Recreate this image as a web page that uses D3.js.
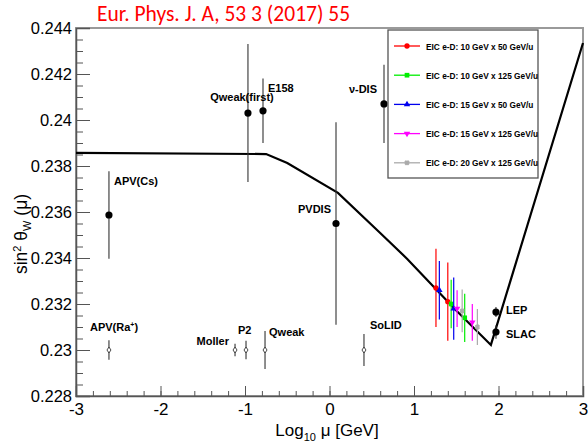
<!DOCTYPE html>
<html><head><meta charset="utf-8">
<script src="https://cdn.jsdelivr.net/npm/d3@7"></script>
<style>body{margin:0;background:#fff;} svg{display:block;} svg text{font-family:"Liberation Sans",Arial,Helvetica,sans-serif;}</style>
</head><body><svg id="c" width="588" height="443"></svg>
<script>
// ---- data ----
const xTickLabels = ["-3","-2","-1","0","1","2","3"];
const yTickValues = [0.228,0.23,0.232,0.234,0.236,0.238,0.24,0.242,0.244];
const yTickLabels = ["0.228","0.23","0.232","0.234","0.236","0.238","0.24","0.242","0.244"];

// theory running curve
const curveLogMu = [-3, -0.75, -0.5, 0.1, 0.6, 0.92, 1.5, 1.91, 3.0];
const curveSin2  = [0.23857, 0.23852, 0.23813, 0.23683, 0.23509, 0.23396, 0.23172, 0.23022, 0.24335];

// existing measurements (filled points)
const measNames = ["APV(Cs)","Qweak(first)","E158","ν-DIS","PVDIS","LEP","SLAC"];
const measLogMu = [-2.61, -0.965, -0.787, 0.645, 0.077, 1.97, 1.97];
const measSin2  = [0.23587, 0.2403, 0.2404, 0.2407, 0.2355, 0.23165, 0.23078];
const measErr   = [0.0019, 0.0030, 0.0014, 0.0017, 0.0044, 0.00022, 0.00029];

// projected measurements (open markers at 0.23)
const projNames = ["APV(Ra+)","Moller","P2","Qweak","SoLID"];
const projLogMu = [-2.61, -1.118, -0.988, -0.763, 0.408];
const projSin2  = [0.23, 0.23, 0.23, 0.23, 0.23];
const projErr   = [0.00042, 0.00027, 0.00040, 0.00083, 0.00070];

// EIC projections
const eicNames  = ["EIC e-D: 10 GeV x 50 GeV/u","EIC e-D: 10 GeV x 125 GeV/u","EIC e-D: 15 GeV x 50 GeV/u","EIC e-D: 15 GeV x 125 GeV/u","EIC e-D: 20 GeV x 125 GeV/u"];
const eicColors = ["#ff0000","#00ee00","#0000ee","#ff00ff","#aaaaaa"];
const eicLogMu  = [[1.26,1.40],[1.44,1.60],[1.30,1.47],[1.51,1.69],[1.57,1.75]];
const eicSin2   = [[0.2327,0.2321],[0.2320,0.2314],[0.2326,0.2318],[0.2318,0.2312],[0.2317,0.2310]];
const eicErr    = [[0.0017,0.0017],[0.00105,0.00105],[0.00127,0.00135],[0.0008,0.0008],[0.00093,0.00078]];

// ---- drawing ----
const FONT = "'Liberation Sans',Arial,Helvetica,sans-serif";
const svg = d3.select("#c");
const L=76,R=583,T=28,B=396;
const x = d3.scaleLinear().domain([-3,3]).range([L,R]);
const y = d3.scaleLinear().domain([0.228,0.244]).range([B,T]);

// title
svg.append("text").attr("x",97).attr("y",21).attr("fill","#ff0000")
  .style("font-family","Carlito,'Open Sans','Liberation Sans',sans-serif").style("font-size","21.5px").text("Eur. Phys. J. A, 53 3 (2017) 55");

// frame
svg.append("rect").attr("x",L).attr("y",T).attr("width",R-L).attr("height",B-T)
  .attr("fill","none").attr("stroke","#9a9a9a").attr("stroke-width",2);

// axes
const yMinor = d3.range(0.228,0.24401,0.0005);
svg.append("g").attr("transform",`translate(${L},0)`)
  .call(d3.axisLeft(y).tickValues(yMinor).tickSize(-7).tickFormat(""))
  .call(g=>g.select(".domain").remove()).selectAll("line").attr("stroke","#555");
const yAx = svg.append("g").attr("transform",`translate(${L},0)`)
  .call(d3.axisLeft(y).tickValues(yTickValues).tickSize(-14).tickPadding(4).tickFormat((d,i)=>yTickLabels[i]));
yAx.attr("font-family",FONT);
yAx.select(".domain").attr("stroke","#555").attr("stroke-width",1.5);
yAx.selectAll("line").attr("stroke","#555");
yAx.selectAll("text").style("font-size","16.5px").attr("fill","#000").style("font-family",FONT);

const xMinor = d3.range(-3,3.001,0.2);
svg.append("g").attr("transform",`translate(0,${B})`)
  .call(d3.axisBottom(x).tickValues(xMinor).tickSize(-5).tickFormat(""))
  .call(g=>g.select(".domain").remove()).selectAll("line").attr("stroke","#555");
const xAx = svg.append("g").attr("transform",`translate(0,${B})`)
  .call(d3.axisBottom(x).tickValues(d3.range(-3,3.5,1)).tickSize(-10).tickPadding(7).tickFormat((d,i)=>xTickLabels[i]));
xAx.attr("font-family",FONT);
xAx.select(".domain").attr("stroke","#555").attr("stroke-width",1.5);
xAx.selectAll("line").attr("stroke","#555");
xAx.selectAll("text").style("font-size","17px").attr("fill","#000").style("font-family",FONT);

// axis titles
const xt = svg.append("text").attr("x",327).attr("y",436).attr("text-anchor","middle").style("font-size","17px");
xt.append("tspan").text("Log");
xt.append("tspan").attr("dy",5).style("font-size","11px").text("10");
xt.append("tspan").attr("dy",-5).text(" μ [GeV]");

const yt = svg.append("text").attr("transform","translate(27,234) rotate(-90)").attr("text-anchor","middle").style("font-size","17.5px");
yt.append("tspan").text("sin");
yt.append("tspan").attr("dy",-6).style("font-size","11px").text("2");
yt.append("tspan").attr("dy",6).text(" θ");
yt.append("tspan").attr("dy",4).style("font-size","11px").text("W");
yt.append("tspan").attr("dy",-4).text(" (μ)");

// theory curve
const line = d3.line().x(d=>x(d[0])).y(d=>y(d[1]));
svg.append("path").datum(curveLogMu.map((v,i)=>[v,curveSin2[i]]))
  .attr("d",line).attr("fill","none").attr("stroke","#000").attr("stroke-width",2.2);

// measurements
const meas = measNames.map((n,i)=>({n,x:measLogMu[i],y:measSin2[i],e:measErr[i]}));
svg.append("g").selectAll("line").data(meas).join("line")
  .attr("x1",d=>x(d.x)).attr("x2",d=>x(d.x)).attr("y1",d=>y(d.y+d.e)).attr("y2",d=>y(d.y-d.e))
  .attr("stroke","#333").attr("stroke-width",1.1);
svg.append("g").selectAll("circle").data(meas).join("circle")
  .attr("cx",d=>x(d.x)).attr("cy",d=>y(d.y)).attr("r",3.6).attr("fill","#000");

const labelStyle = s=>s.style("font-size","11px").style("font-weight","bold");
const measOff = {"APV(Cs)":[5,-30,"start"],"Qweak(first)":[-6,-12,"middle"],"E158":[5,-19,"start"],
  "ν-DIS":[-7,-11,"end"],"PVDIS":[-5,-11,"end"],"LEP":[10,2,"start"],"SLAC":[10,6,"start"]};
meas.forEach(d=>{const o=measOff[d.n];
  svg.append("text").attr("x",x(d.x)+o[0]).attr("y",y(d.y)+o[1]).attr("text-anchor",o[2]).call(labelStyle).text(d.n);});

// projected
const proj = projNames.map((n,i)=>({n,x:projLogMu[i],y:projSin2[i],e:projErr[i]}));
svg.append("g").selectAll("line").data(proj).join("line")
  .attr("x1",d=>x(d.x)).attr("x2",d=>x(d.x)).attr("y1",d=>y(d.y+d.e)).attr("y2",d=>y(d.y-d.e))
  .attr("stroke","#333").attr("stroke-width",1.1);
svg.append("g").selectAll("path").data(proj).join("path")
  .attr("transform",d=>`translate(${x(d.x)},${y(d.y)})`)
  .attr("d","M0,-3L2,0L0,3L-2,0Z").attr("fill","#fff").attr("stroke","#333").attr("stroke-width",0.9);
const projOff = {"APV(Ra+)":[-19,-19,"start"],"Moller":[-6,-5,"end"],"P2":[-8,-16,"start"],"Qweak":[4,-14,"start"],"SoLID":[6,-21,"start"]};
proj.forEach(d=>{const o=projOff[d.n];
  const t=svg.append("text").attr("x",x(d.x)+o[0]).attr("y",y(d.y)+o[1]).attr("text-anchor",o[2]).call(labelStyle);
  if(d.n==="APV(Ra+)"){t.append("tspan").text("APV(Ra");t.append("tspan").attr("dy",-4).style("font-size","7px").text("+");t.append("tspan").attr("dy",4).text(")");}
  else t.text(d.n);});

// EIC
const symbols=[d3.symbolCircle,d3.symbolSquare,d3.symbolTriangle,d3.symbolTriangle,d3.symbolCross];
const symSize=[22,22,18,18,10];
const symRot=[0,0,0,180,45];
eicNames.forEach((n,s)=>{
  const pts=eicLogMu[s].map((v,i)=>({x:v,y:eicSin2[s][i],e:eicErr[s][i]}));
  const g=svg.append("g");
  g.selectAll("line").data(pts).join("line")
    .attr("x1",d=>x(d.x)).attr("x2",d=>x(d.x)).attr("y1",d=>y(d.y+d.e)).attr("y2",d=>y(d.y-d.e))
    .attr("stroke",eicColors[s]).attr("stroke-width",1.2);
  g.selectAll("path").data(pts).join("path")
    .attr("transform",d=>`translate(${x(d.x)},${y(d.y)}) rotate(${symRot[s]})`)
    .attr("d",d3.symbol(symbols[s],symSize[s])).attr("fill",eicColors[s]).attr("stroke",s===4?eicColors[s]:"none");
});

// legend
const lg=svg.append("g");
lg.append("rect").attr("x",388).attr("y",30).attr("width",150).attr("height",148).attr("fill","#fff").attr("stroke","#555").attr("stroke-width",1.3);
eicNames.forEach((n,s)=>{
  const ly=46+s*29.2;
  lg.append("line").attr("x1",394).attr("x2",420).attr("y1",ly).attr("y2",ly).attr("stroke",eicColors[s]).attr("stroke-width",1.3);
  lg.append("path").attr("transform",`translate(407,${ly}) rotate(${symRot[s]})`).attr("d",d3.symbol(symbols[s],symSize[s]))
    .attr("fill",eicColors[s]).attr("stroke",s===4?eicColors[s]:"none");
  lg.append("text").attr("x",426).attr("y",ly+3.5).style("font-size","8.3px").style("font-weight","bold").text(n);
});
</script></body></html>
